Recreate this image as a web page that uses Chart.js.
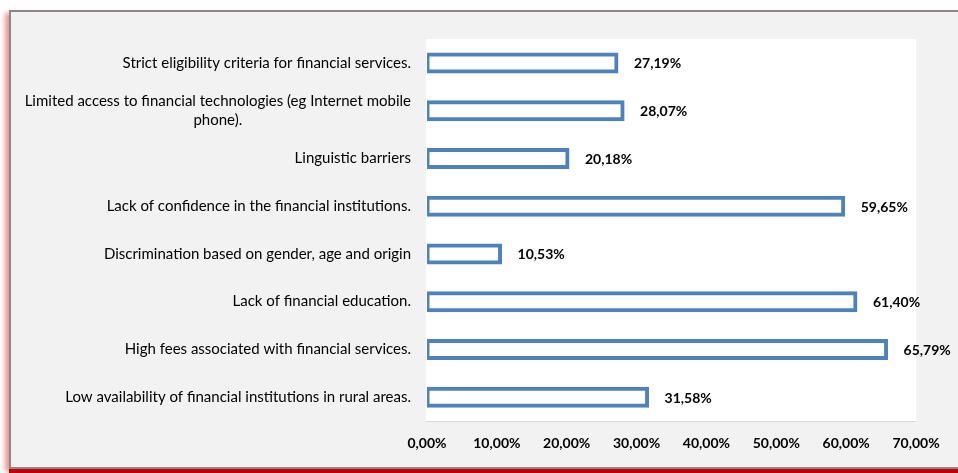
<!DOCTYPE html>
<html lang="en">

<head>
  <meta charset="UTF-8">
  <title>Barriers to financial inclusion</title>
  <script src="https://cdn.jsdelivr.net/npm/chart.js"></script>
  <style>
    body { margin: 0; background: #fff; width: 958px; height: 473px; overflow: hidden; position: relative; }
    #frame {
      position: absolute; left: 9px; top: 10px; width: 980px; height: 455px;
      background: #f2f2f2; border: 2px solid #8a8a8a; border-right: none;
      box-shadow: 0 5px 0 #c00000, -4px 3px 5px rgba(215, 60, 60, 0.55);
    }
    #barChart { position: absolute; left: 0; top: 0; }
  </style>
</head>

<body>
  <div id="frame"></div>
  <canvas id="barChart" width="958" height="473"></canvas>

  <script>
    // categories, top to bottom as in the picture
    const categories = [
      'Strict eligibility criteria for financial services.',
      ['Limited access to financial technologies (eg Internet mobile', 'phone).'],
      'Linguistic barriers',
      'Lack of confidence in the financial institutions.',
      'Discrimination based on gender, age and origin',
      'Lack of financial education.',
      'High fees associated with financial services.',
      'Low availability of financial institutions in rural areas.'
    ];
    const shares = [27.19, 28.07, 20.18, 59.65, 10.53, 61.40, 65.79, 31.58];
    const xTicks = [0, 10, 20, 30, 40, 50, 60, 70];

    const fontFamily = 'Lato, "Open Sans", sans-serif';
    const fmt = v => v.toFixed(2).replace('.', ',') + '%';

    // white plot area, own category labels (second line centred) and value labels
    const decorate = {
      id: 'decorate',
      beforeDatasetsDraw(chart) {
        const a = chart.chartArea;
        const c = chart.ctx;
        c.save();
        c.fillStyle = '#fff';
        c.fillRect(a.left - 1, a.top, a.right - a.left + 1, a.bottom - a.top);
        c.fillStyle = '#d9d9d9';
        c.fillRect(a.left - 1, a.bottom, a.right - a.left + 1, 1);
        c.restore();
      },
      afterDraw(chart) {
        const c = chart.ctx;
        const yScale = chart.scales.y;
        c.save();
        c.fillStyle = '#000';
        c.textBaseline = 'middle';
        c.textAlign = 'center';
        c.font = '15px ' + fontFamily;
        categories.forEach((label, i) => {
          const lines = Array.isArray(label) ? label : [label];
          const w = Math.max(...lines.map(l => c.measureText(l).width));
          const cx = 411 - w / 2;
          const y0 = yScale.getPixelForValue(i) - (lines.length - 1) * 9.5;
          lines.forEach((l, k) => c.fillText(l, cx, y0 + k * 19));
        });
        c.textAlign = 'left';
        c.font = 'bold 14px ' + fontFamily;
        chart.getDatasetMeta(0).data.forEach((bar, i) => {
          c.fillText(fmt(shares[i]), bar.x + 17, bar.y + 1);
        });
        c.restore();
      }
    };

    const ctx = document.getElementById('barChart').getContext('2d');
    const barChart = new Chart(ctx, {
      type: 'bar',
      data: {
        labels: categories,
        datasets: [{
          data: shares,
          backgroundColor: '#ffffff',
          borderColor: '#4f81bd',
          borderWidth: 4,
          borderSkipped: false,
          inflateAmount: 1.5,
          barThickness: 18
        }]
      },
      options: {
        indexAxis: 'y',
        responsive: false,
        animation: false,
        layout: { padding: { left: 0, right: 42, top: 39, bottom: 0 } },
        plugins: { legend: { display: false }, tooltip: { enabled: false } },
        scales: {
          x: {
            min: 0,
            max: 70,
            afterBuildTicks(scale) { scale.ticks = xTicks.map(v => ({ value: v })); },
            afterFit(scale) { scale.height = 52; },
            grid: { display: false, drawTicks: false },
            border: { display: false },
            ticks: {
              padding: 14,
              color: '#000',
              font: { family: fontFamily, size: 14, weight: 'bold' },
              callback: v => fmt(v)
            }
          },
          y: {
            afterFit(scale) { scale.width = 427; },
            grid: { display: false, drawTicks: false },
            border: { display: false },
            ticks: { display: false }
          }
        }
      },
      plugins: [decorate]
    });
  </script>
</body>

</html>
